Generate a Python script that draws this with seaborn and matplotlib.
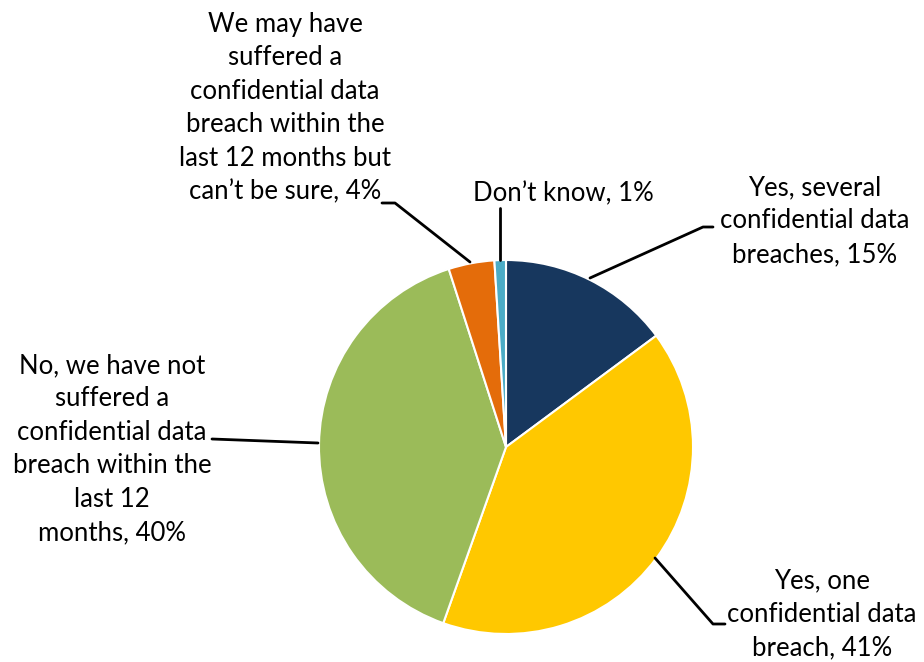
import matplotlib
matplotlib.use("Agg")
import matplotlib.pyplot as plt
import seaborn as sns

categories = [
    "Yes, several\nconfidential data\nbreaches",
    "Yes, one\nconfidential data\nbreach",
    "No, we have not\nsuffered a\nconfidential data\nbreach within the\nlast 12\nmonths",
    "We may have\nsuffered a\nconfidential data\nbreach within the\nlast 12 months but\ncan\u2019t be sure",
    "Don\u2019t know",
]
values = [15, 41, 40, 4, 1]
colors = ["#17375e", "#ffc800", "#9bbb59", "#e46c0a", "#4bacc6"]

sns.set_theme(style="white")
plt.rcParams["font.family"] = ["Lato", "DejaVu Sans"]

W, H = 924, 662
fig = plt.figure(figsize=(W / 100, H / 100), dpi=100)
ax = fig.add_axes([0, 0, 1, 1])
ax.set_xlim(0, W)
ax.set_ylim(0, H)
ax.set_aspect("equal")
ax.axis("off")

def Y(y):
    return H - y

cx, cy, r = 506, 447, 187
ax.pie(values, colors=colors, startangle=90, counterclock=False,
       center=(cx, Y(cy)), radius=r,
       wedgeprops=dict(edgecolor="white", linewidth=1.5))
ax.set_xlim(0, W)
ax.set_ylim(0, H)

labels = [f"{c}, {v}%" for c, v in zip(categories, values)]
# label centers (pixel coordinates) and leader lines
label_pos = [(815, 221), (822, 614), (112, 449), (285, 108), (563, 194)]
leaders = [
    [(590, 278), (703, 227), (713, 227)],
    [(655, 558), (713, 624), (725, 624)],
    [(318, 443), (212, 439)],
    [(470, 262), (395, 203), (382, 203)],
    [(500, 260), (500, 208)],
]
for lab, (lx, ly), pts in zip(labels, label_pos, leaders):
    ax.text(lx, Y(ly), lab, ha="center", va="center", fontsize=18.5,
            color="black", linespacing=1.42)
    xs = [p[0] for p in pts]
    ys = [Y(p[1]) for p in pts]
    ax.plot(xs, ys, color="black", linewidth=2)

fig.savefig("out.png", dpi=100)
